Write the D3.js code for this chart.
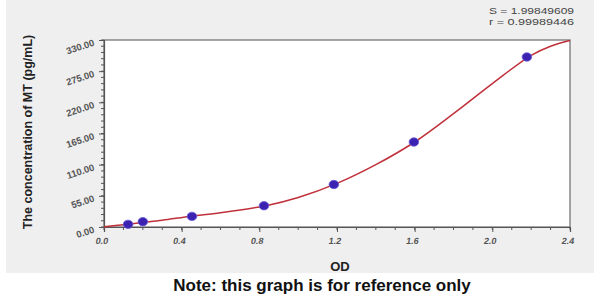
<!DOCTYPE html>
<html><head><meta charset="utf-8">
<script src="https://cdn.jsdelivr.net/npm/d3@7"></script>
<style>body{margin:0;background:#fff}svg{display:block}</style>
</head><body>
<svg id="c" width="600" height="308"></svg>
<script>
const pointOD = [0.124, 0.20, 0.453, 0.824, 1.184, 1.596, 2.178];
const pointConc = [4.69, 9.38, 18.75, 37.5, 75, 150, 300];
const curveOD = [0, 0.1, 0.2, 0.3, 0.45, 0.6, 0.84, 1.0, 1.2, 1.4, 1.6, 1.8, 2.0, 2.2, 2.3, 2.4];
const curveConc = [0.5, 4, 8, 12, 19, 25, 38, 52, 77, 110, 150, 200, 253, 303, 319, 329];
const xTicks = [0, 0.4, 0.8, 1.2, 1.6, 2.0, 2.4];
const yTicks = [0, 55, 110, 165, 220, 275, 330];
const stats = ["S = 1.99849609", "r = 0.99989446"];

const FF = "Liberation Sans, Arial, sans-serif";
const svg = d3.select("#c");
svg.append("rect").attr("x",6).attr("y",0).attr("width",588).attr("height",273).attr("fill","#efefef");
const x = d3.scaleLinear().domain([0,2.4]).range([104,570]);
const y = d3.scaleLinear().domain([0,330]).range([227,40]);
svg.append("rect").attr("x",104).attr("y",40).attr("width",466).attr("height",187)
  .attr("fill","#fff").attr("stroke","#6b6b6b").attr("stroke-width",1.2);

// minor ticks
const xMinor = d3.range(0,2.41,0.1);
svg.append("g").selectAll("line").data(xMinor).join("line")
  .attr("x1",d=>x(d)).attr("x2",d=>x(d)).attr("y1",227).attr("y2",230).attr("stroke","#555");
const yMinor = d3.range(0,331,11);
svg.append("g").selectAll("line").data(yMinor).join("line")
  .attr("y1",d=>y(d)).attr("y2",d=>y(d)).attr("x1",104).attr("x2",101).attr("stroke","#555");

const xa = svg.append("g").attr("transform","translate(0,227)")
  .call(d3.axisBottom(x).tickValues(xTicks).tickFormat(d3.format(".1f")).tickSize(5).tickPadding(6));
const ya = svg.append("g").attr("transform","translate(104,0)")
  .call(d3.axisLeft(y).tickValues(yTicks).tickFormat(d3.format(".2f")).tickSize(5).tickPadding(5));
[xa,ya].forEach(a=>{
  a.select(".domain").attr("stroke","#555").attr("stroke-width",1.2);
  a.selectAll(".tick line").attr("stroke","#555");
  a.selectAll("text").attr("fill","#555").attr("font-family",FF).attr("font-weight","bold");
});
ya.selectAll(".tick text").attr("font-size",9.5).attr("transform","rotate(-18)").attr("dy","0.2em");
xa.selectAll(".tick text").attr("font-size",9).attr("transform","skewX(-10)");

const line = d3.line().x((d,i)=>x(curveOD[i])).y(d=>y(d)).curve(d3.curveCatmullRom.alpha(0.5));
svg.append("path").datum(curveConc).attr("d",line).attr("fill","none")
  .attr("stroke","#c0303a").attr("stroke-width",1.5);

svg.append("g").selectAll("ellipse").data(pointConc).join("ellipse")
  .attr("cx",(d,i)=>x(pointOD[i])).attr("cy",d=>y(d)).attr("rx",4.8).attr("ry",4.2)
  .attr("fill","#3b22b0").attr("stroke","#6a5ad8").attr("stroke-width",0.8);

svg.append("text").attr("transform","translate(32,132) rotate(-90)").attr("text-anchor","middle")
  .attr("font-family",FF).attr("font-size",12.5).attr("font-weight","bold")
  .attr("fill","#222").text("The concentration of MT (pg/mL)");
svg.append("text").attr("x",340).attr("y",271).attr("text-anchor","middle")
  .attr("font-family",FF).attr("font-size",13).attr("font-weight","bold")
  .attr("fill","#222").text("OD");
svg.append("text").attr("x",322).attr("y",291).attr("text-anchor","middle")
  .attr("font-family",FF).attr("font-size",17).attr("font-weight","bold")
  .attr("fill","#111").text("Note: this graph is for reference only");
svg.append("g").selectAll("text").data(stats).join("text")
  .attr("x",574).attr("y",(d,i)=>14+i*11).attr("text-anchor","end")
  .attr("font-family",FF).attr("font-size",8.5).attr("textLength",85).attr("lengthAdjust","spacingAndGlyphs")
  .attr("fill","#444").text(d=>d);
</script>
</body></html>
